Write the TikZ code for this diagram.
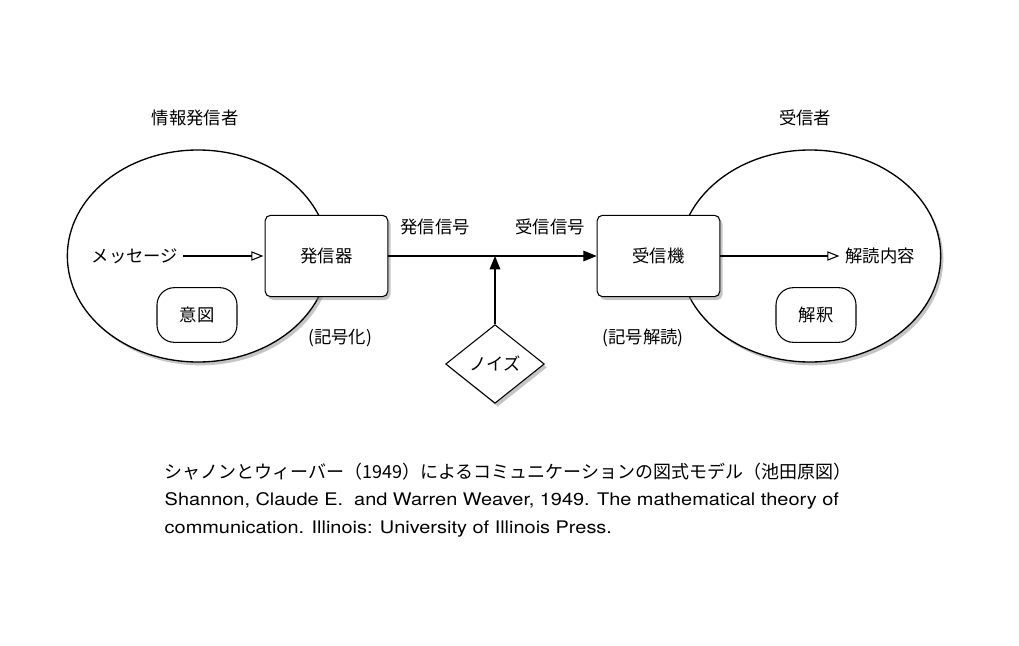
\documentclass[tikz,border=0pt]{standalone}
\usepackage{fontspec}
\setmainfont{Noto Sans CJK JP}
\newfontfamily\latinfont[FakeStretch=1.15]{TeX Gyre Heros}
\usetikzlibrary{shapes.geometric,arrows.meta,shadows}

\tikzset{
  shade/.style={drop shadow={opacity=0.45,shadow xshift=2pt,shadow yshift=-2.5pt}},
  party/.style={ellipse,draw,fill=white,line width=1pt,minimum width=196pt,minimum height=159pt,shade},
  device/.style={draw,fill=white,rounded corners=4pt,line width=0.8pt,minimum width=92pt,minimum height=61pt,shade},
  inner/.style={draw,fill=white,rounded corners=13pt,line width=0.8pt,minimum width=60pt,minimum height=41pt},
  noise/.style={diamond,draw,fill=white,line width=0.8pt,inner sep=0pt,minimum width=74pt,minimum height=59pt,shade},
  solidtip/.style={-{Triangle[length=10pt,width=8pt]},line width=0.8pt},
  opentip/.style={-{Triangle[open,length=9pt,width=7pt]},line width=0.8pt,shorten >=1pt},
  caption/.style={anchor=west,font=\latinfont\fontsize{13}{15}\selectfont}
}

\begin{document}
\begin{tikzpicture}[font=\fontsize{13}{15}\selectfont,x=0.75pt,y=-0.75pt]
\useasboundingbox[fill=white] (0,0) rectangle (1019,645);

% sender and receiver
\node[party] (sender) at (198,256) {};
\node[party] (receiver) at (810,256) {};
\node (sendername) at (195,118) {情報発信者};
\node (receivername) at (805,118) {受信者};

% devices
\node[device] (enc) at (326.5,256) {発信器};
\node[device] (dec) at (658.5,256) {受信機};
\node[inner] (intent) at (197,315) {意図};
\node[inner] (interp) at (816,315) {解釈};

\node (msg) at (135,256) {メッセージ};
\node (content) at (880,256) {解読内容};

\node (sent) at (435,227) {発信信号};
\node (recv) at (550,227) {受信信号};
\node (encode) at (340,338) {(記号化)};
\node (decode) at (643,338) {(記号解読)};

% noise
\node[noise] (nz) at (495,364) {ノイズ};
\coordinate (join) at (495,256);

\draw[opentip] (msg) -- (enc);
\draw[solidtip] (enc) -- (dec);
\draw[solidtip] (nz) -- (join);
\draw[opentip] (dec) -- (content);

% caption
\node[anchor=west,font=\fontsize{13.5}{15}\selectfont] (cap1) at (160,472) {シャノンとウィーバー（1949）によるコミュニケーションの図式モデル（池田原図）};
\node[caption] (cap2) at (160,501) {Shannon, Claude E.\ \ and Warren Weaver, 1949. The mathematical theory of};
\node[caption] (cap3) at (160,529) {communication. Illinois: University of Illinois Press.};
\end{tikzpicture}
\end{document}
